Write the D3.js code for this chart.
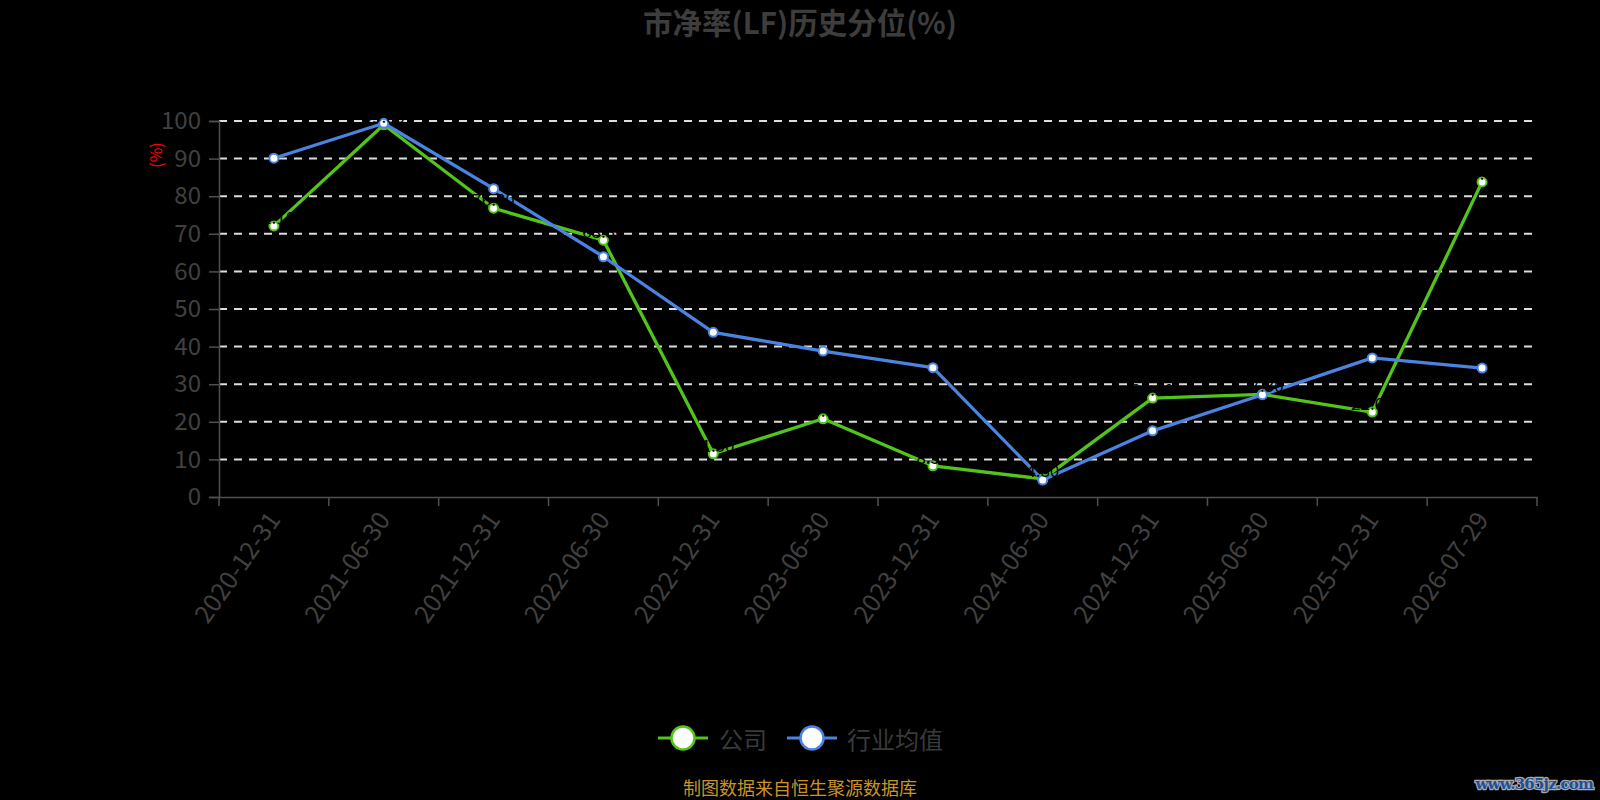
<!DOCTYPE html>
<html><head><meta charset="utf-8">
<script src="https://cdn.jsdelivr.net/npm/d3@7/dist/d3.min.js"></script>
<style>
html,body{margin:0;padding:0;background:#000;}
svg{display:block;font-family:"Noto Sans CJK SC","Noto Sans",sans-serif;}
</style></head>
<body>
<svg id="chart" width="1600" height="800"></svg>
<script>
const categories = ["2020-12-31","2021-06-30","2021-12-31","2022-06-30","2022-12-31","2023-06-30","2023-12-31","2024-06-30","2024-12-31","2025-06-30","2025-12-31","2026-07-29"];
const companyValues = [72.1, 99.0, 76.8, 68.3, 11.5, 20.8, 8.3, 4.8, 26.3, 27.3, 22.6, 83.8];
const industryValues = [90.1, 99.4, 82.0, 63.9, 43.8, 38.8, 34.4, 4.5, 17.6, 27.2, 37.0, 34.3];
const yTicks = [0,10,20,30,40,50,60,70,80,90,100];
const seriesNames = ["公司","行业均值"];
const seriesColors = ["#52c41a","#4a83e0"];

(function(){
const svg = d3.select("#chart");
const pLeft = 219, pRight = 1537, pTop = 121, pBottom = 497;

const x = d3.scaleBand().domain(categories).range([pLeft, pRight]);
const y = d3.scaleLinear().domain([0, 100]).range([pBottom, pTop]);
const cx = c => x(c) + x.bandwidth() / 2;

// title
svg.append("text").attr("x", 800).attr("y", 34).attr("text-anchor", "middle")
  .attr("font-size", 29.5).attr("font-weight", "bold").attr("fill", "#3d3d3d")
  .text("市净率(LF)历史分位(%)");

// grid lines
svg.append("g").selectAll("line").data(yTicks.filter(d => d > 0)).join("line")
  .attr("x1", pLeft).attr("x2", pRight)
  .attr("y1", d => y(d)).attr("y2", d => y(d))
  .attr("stroke", "#dddddd").attr("stroke-width", 2).attr("stroke-dasharray", "8,7");

// y axis
const yAxis = svg.append("g").attr("transform", `translate(${pLeft},0)`)
  .call(d3.axisLeft(y).tickValues(yTicks).tickSize(10).tickPadding(8));
yAxis.select(".domain").attr("stroke", "#505050").attr("stroke-width", 1.5);
yAxis.selectAll(".tick line").attr("stroke", "#505050").attr("stroke-width", 1.5);
yAxis.selectAll(".tick text").attr("fill", "#404040").attr("font-size", 24)
  .attr("font-family", "'Noto Sans CJK SC',sans-serif");

// y axis name
svg.append("text").attr("transform", "translate(162,155) rotate(-90)")
  .attr("text-anchor", "middle").attr("font-size", 16).attr("fill", "#ff0000").text("(%)");

// x axis
const xAxis = svg.append("g").attr("transform", `translate(0,${pBottom})`)
  .call(d3.axisBottom(x).tickSize(0).tickSizeOuter(0));
xAxis.select(".domain").attr("stroke", "#505050").attr("stroke-width", 1.5);
xAxis.selectAll(".tick text").remove();
const tickPos = categories.map(c => x(c)).concat([pRight]);
svg.append("g").selectAll("line").data(tickPos).join("line")
  .attr("x1", d => d).attr("x2", d => d).attr("y1", pBottom).attr("y2", pBottom + 9)
  .attr("stroke", "#505050").attr("stroke-width", 1.5);
svg.append("g").selectAll("text").data(categories).join("text")
  .attr("transform", d => `translate(${cx(d) + 2},${pBottom + 19}) rotate(-55)`)
  .attr("text-anchor", "end").attr("dominant-baseline", "middle")
  .attr("font-size", 25).attr("fill", "#404040").text(d => d);

// lines
const line = d3.line().x((d, i) => cx(categories[i])).y(d => y(d));
[companyValues, industryValues].forEach((vals, si) => {
  const g = svg.append("g");
  g.append("path").datum(vals).attr("d", line).attr("fill", "none")
    .attr("stroke", seriesColors[si]).attr("stroke-width", 3.3).attr("stroke-linejoin", "round");
  g.selectAll("circle").data(vals).join("circle")
    .attr("cx", (d, i) => cx(categories[i])).attr("cy", d => y(d))
    .attr("r", 4.5).attr("fill", "#fff").attr("stroke", seriesColors[si]).attr("stroke-width", 2);
});
// company value labels (black, as in the reference)
svg.append("g").selectAll("text").data(companyValues).join("text")
  .attr("x", (d, i) => cx(categories[i])).attr("y", d => y(d) - 2)
  .attr("text-anchor", "middle").attr("font-size", 17).attr("fill", "#000")
  .text(d => d.toFixed(2));

// legend
const legendItems = [{cx: 683, tx: 719}, {cx: 812, tx: 847}];
legendItems.forEach((it, i) => {
  const g = svg.append("g");
  g.append("line").attr("x1", it.cx - 25).attr("x2", it.cx + 25).attr("y1", 738).attr("y2", 738)
    .attr("stroke", seriesColors[i]).attr("stroke-width", 3);
  g.append("circle").attr("cx", it.cx).attr("cy", 738).attr("r", 11.5)
    .attr("fill", "#fff").attr("stroke", seriesColors[i]).attr("stroke-width", 2.5);
  g.append("text").attr("x", it.tx).attr("y", 738).attr("dominant-baseline", "central")
    .attr("font-size", 24).attr("fill", "#3a3a3a").text(seriesNames[i]);
});

// footer
svg.append("text").attr("x", 800).attr("y", 795).attr("text-anchor", "middle")
  .attr("font-size", 18).attr("fill", "#c8942a").text("制图数据来自恒生聚源数据库");

// watermark
svg.append("text").attr("x", 1593).attr("y", 789).attr("text-anchor", "end")
  .attr("font-size", 15).attr("font-weight", "bold").attr("font-family", "'DejaVu Serif',serif")
  .attr("fill", "#1f4f9a").attr("stroke", "#aaaaaa").attr("stroke-width", 2.5)
  .attr("paint-order", "stroke").attr("letter-spacing", -0.8).text("www.365jz.com");
})();
</script>
</body></html>
